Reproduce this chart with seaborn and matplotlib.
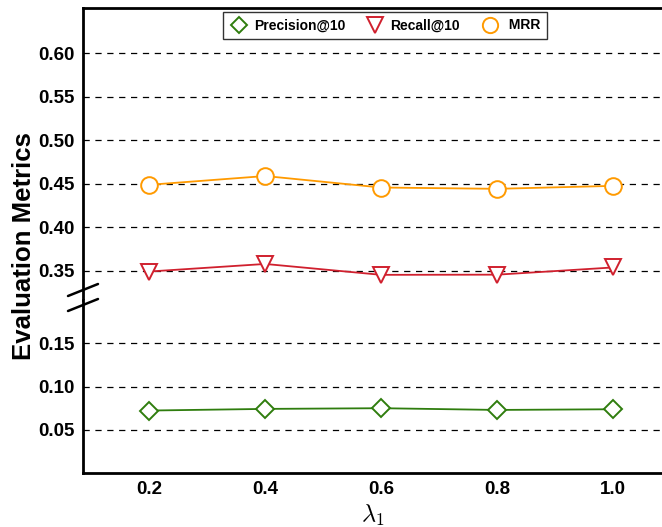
import numpy as np
import pandas as pd
import matplotlib
matplotlib.use("Agg")
import matplotlib.pyplot as plt
import seaborn as sns
from matplotlib.lines import Line2D

sns.set_theme(style="white")
plt.rcParams['font.family'] = ['Liberation Sans', 'DejaVu Sans']
plt.rcParams['mathtext.fontset'] = 'cm'
for k in ("text.color", "xtick.color", "ytick.color", "axes.labelcolor"):
    plt.rcParams[k] = "black"

lambdas = [0.2, 0.4, 0.6, 0.8, 1.0]
precision = [0.0722, 0.0741, 0.0749, 0.0729, 0.0737]
recall = [0.3493, 0.3580, 0.3455, 0.3457, 0.3540]
mrr = [0.4489, 0.4590, 0.4458, 0.4443, 0.4477]
series_names = ["Precision@10", "Recall@10", "MRR"]
top_ticks = [0.35, 0.40, 0.45, 0.50, 0.55, 0.60]
bottom_ticks = [0.05, 0.10, 0.15]
x_ticks = [0.2, 0.4, 0.6, 0.8, 1.0]

colors = {"Precision@10": "#2f7d0e", "Recall@10": "#d0202e", "MRR": "#ff9a00"}
markers = {"Precision@10": "D", "Recall@10": "v", "MRR": "o"}
msizes = {"Precision@10": 9, "Recall@10": 12, "MRR": 12}

df = pd.DataFrame({
    "lambda": lambdas * 3,
    "value": precision + recall + mrr,
    "metric": [series_names[0]] * 5 + [series_names[1]] * 5 + [series_names[2]] * 5,
})

W, H = 662, 527
fig = plt.figure(figsize=(W / 100, H / 100), dpi=100)
left = 83 / W
right = 1.0
top_y, break_y, bot_y = 8, 300, 473
ax_top = fig.add_axes([left, 1 - break_y / H, right - left, (break_y - top_y) / H])
ax_bot = fig.add_axes([left, 1 - bot_y / H, right - left, (bot_y - break_y) / H])

TICK_FS = 13.5
for ax in (ax_top, ax_bot):
    for name in series_names:
        sub = df[df.metric == name]
        sns.lineplot(data=sub, x="lambda", y="value", ax=ax, color=colors[name],
                     marker=markers[name], markersize=msizes[name],
                     markerfacecolor="white", markeredgecolor=colors[name],
                     markeredgewidth=1.4, linewidth=1.3, legend=False, zorder=3)
    ax.set_xlim(0.086, 1.084)
    ax.set_xlabel("")
    ax.set_ylabel("")
    ax.tick_params(axis="both", length=0, labelsize=TICK_FS, labelcolor="black")
    ax.spines["right"].set_visible(False)

ax_top.set_ylim(0.3166, 0.652)
ax_bot.set_ylim(0.0, 0.2)
ax_top.set_yticks(top_ticks)
ax_top.set_yticklabels([f"{t:.2f}" for t in top_ticks], fontweight="bold", fontsize=TICK_FS)
ax_bot.set_yticks(bottom_ticks)
ax_bot.set_yticklabels([f"{t:.2f}" for t in bottom_ticks], fontweight="bold", fontsize=TICK_FS)
ax_top.set_xticks([])
ax_bot.set_xticks(x_ticks)
ax_bot.set_xticklabels([f"{t:.1f}" for t in x_ticks], fontweight="bold", fontsize=TICK_FS)
ax_bot.tick_params(axis="x", pad=6)
ax_top.tick_params(axis="y", pad=6)
ax_bot.tick_params(axis="y", pad=6)

for t in top_ticks:
    ax_top.axhline(t, color="black", linestyle=(0, (5, 4.5)), linewidth=0.9, zorder=1)
for t in bottom_ticks:
    ax_bot.axhline(t, color="black", linestyle=(0, (5, 4.5)), linewidth=0.9, zorder=1)

ax_top.spines["bottom"].set_visible(False)
ax_bot.spines["top"].set_visible(False)
for ax in (ax_top, ax_bot):
    for s in ("left", "top", "bottom"):
        ax.spines[s].set_linewidth(2.0)
        ax.spines[s].set_color("black")

# break marks
for yc in (290, 305):
    fig.add_artist(Line2D([68 / W, 98 / W], [1 - (yc + 6) / H, 1 - (yc - 6) / H],
                          transform=fig.transFigure, color="black", linewidth=1.8))

ax_bot.set_xlabel(r"$\lambda_1$", fontsize=17.5, labelpad=3, color="black")
fig.text(24 / W, 1 - 246 / H, "Evaluation Metrics", rotation=90, fontsize=18.5,
         fontweight="bold", ha="center", va="center", color="black")

handles = [Line2D([], [], color=colors[n], marker=markers[n], linestyle="none",
                  markersize=msizes[n] - 1, markerfacecolor="white",
                  markeredgewidth=1.4) for n in series_names]
labels = ["Precision@10", "Recall@10", " MRR"]
leg = ax_top.legend(handles, labels, loc="upper center",
                    bbox_to_anchor=(0.5216, 1.0), ncol=3, frameon=True, fancybox=False,
                    prop={"weight": "bold", "size": 10}, handletextpad=0.45,
                    columnspacing=1.5, borderpad=0.45, handlelength=1.3,
                    borderaxespad=0.3)
leg.get_frame().set_edgecolor("black")
leg.get_frame().set_linewidth(1.0)
for txt in leg.get_texts():
    txt.set_color("black")

fig.savefig("out.png", dpi=100)
